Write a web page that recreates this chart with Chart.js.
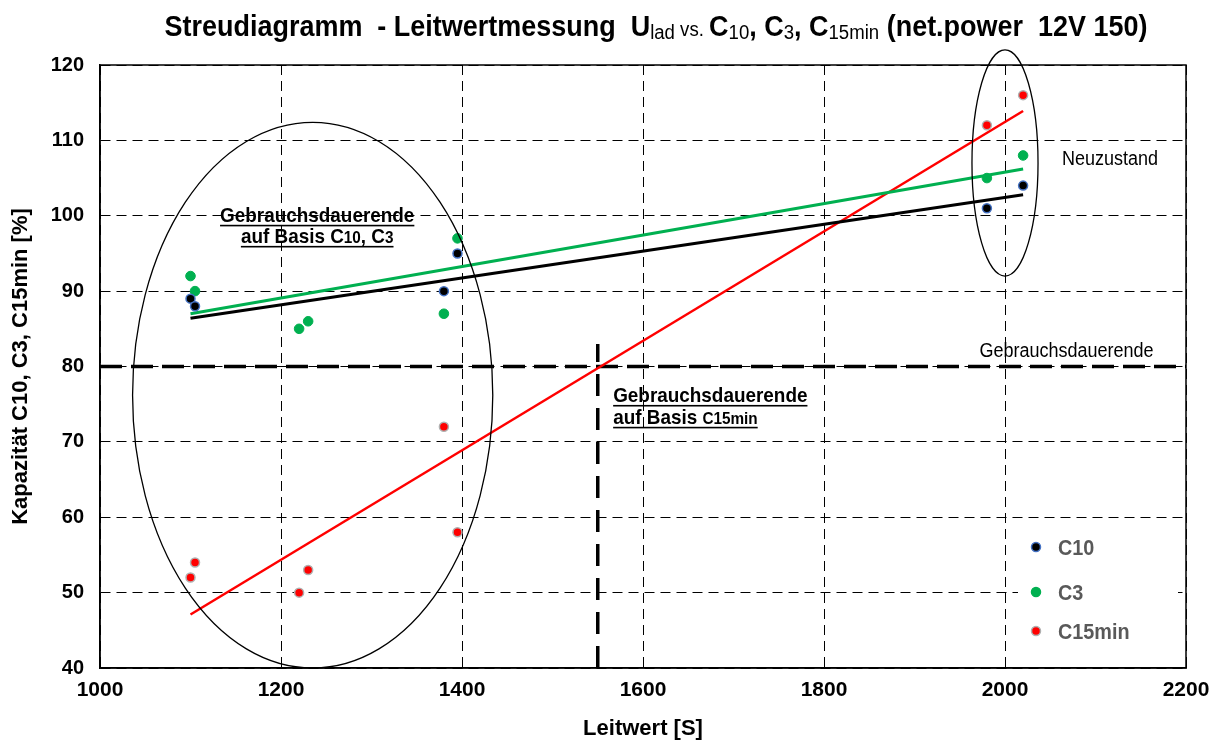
<!DOCTYPE html>
<html>
<head>
<meta charset="utf-8">
<script src="https://cdn.jsdelivr.net/npm/chart.js@4/dist/chart.umd.min.js"></script>
<style>
    body { margin: 0; background: #fff; }
    #wrap { width: 1220px; height: 742px; position: relative; }
</style>
</head>
<body>
<div id="wrap"><canvas id="chart"></canvas></div>
<script>
// measured values (Leitwert [S] vs. capacity [%])
const c10X = [1100, 1105, 1380, 1395, 1980, 2020];
const c10Y = [89, 88, 90, 95, 101, 104];
const c3X = [1100, 1105, 1220, 1230, 1380, 1395, 1980, 2020];
const c3Y = [92, 90, 85, 86, 87, 97, 105, 108];
const c15X = [1100, 1105, 1220, 1230, 1380, 1395, 1980, 2020];
const c15Y = [52, 54, 50, 53, 72, 58, 112, 116];

// trend lines at their ends
const trendX = [1100, 2020];
const trendC10 = [86.4, 102.8];
const trendC3 = [87, 106.2];
const trendC15 = [47.1, 113.9];

// end-of-life limits
const limitX = [1000, 2200];
const limitY = [80, 80];
const c15LimitX = [1550, 1550];
const c15LimitY = [40, 83];

const legendNames = ["C10", "C3", "C15min"];

function pts(xs, ys)
{
    return xs.map((x, i) => ({x: x, y: ys[i]}));
}

const FONT = "'Liberation Sans', Arial, sans-serif";
const SX = 0.9; // text in the original looks a bit condensed

// draw text made of runs with different sizes
function drawRuns(ctx, runs, x, y, align, underline, scaleX, fitWidth)
{
    scaleX = scaleX || 1;
    let w = 0;
    runs.forEach(r =>
    {
        ctx.font = (r.bold ? "bold " : "") + r.size + "px " + FONT;
        r.w = ctx.measureText(r.t).width;
        w += r.w;
    });
    if (fitWidth) scaleX = fitWidth / w;
    let start = x;
    if (align === "center") start = x - w * scaleX / 2;
    ctx.save();
    ctx.translate(start, y);
    ctx.scale(scaleX, 1);
    ctx.textBaseline = "alphabetic";
    ctx.textAlign = "left";
    let cx = 0;
    runs.forEach(r =>
    {
        ctx.font = (r.bold ? "bold " : "") + r.size + "px " + FONT;
        ctx.fillStyle = r.color || "#000";
        ctx.fillText(r.t, cx, r.dy || 0);
        cx += r.w;
    });
    if (underline)
    {
        ctx.fillStyle = "#000";
        ctx.fillRect(0, 3, w, 1.6);
    }
    ctx.restore();
    return w;
}

const overlay =
    {
        id: "overlay",
        afterDatasetsDraw(chart)
        {
            const ctx = chart.ctx;
            const xs = chart.scales.x;
            const ys = chart.scales.y;
            const a = chart.chartArea;

            // legend box (white, hides grid behind it)
            ctx.save();
            ctx.fillStyle = "#fff";
            ctx.fillRect(1018, 528, 160, 122);
            ctx.restore();

            // frame
            ctx.save();
            ctx.strokeStyle = "#000";
            ctx.lineWidth = 1.5;
            ctx.strokeRect(a.left, a.top, a.right - a.left, a.bottom - a.top);

            // ellipses
            ctx.lineWidth = 1.3;
            const ell = (cx, cy, rx, ry) =>
            {
                const px = xs.getPixelForValue(cx);
                const py = ys.getPixelForValue(cy);
                const prx = xs.getPixelForValue(cx + rx) - px;
                const pry = py - ys.getPixelForValue(cy + ry);
                ctx.beginPath();
                ctx.ellipse(px, py, prx, pry, 0, 0, Math.PI * 2);
                ctx.stroke();
            };
            ell(1235, 76.2, 199, 36.2);
            ell(2000, 107, 36.5, 15);
            ctx.restore();

            // annotations
            drawRuns(ctx, [{t: "Neuzustand", size: 20}], xs.getPixelForValue(2063), ys.getPixelForValue(106.7), "left", false, SX);
            drawRuns(ctx, [{t: "Gebrauchsdauerende", size: 20}], xs.getPixelForValue(2068), ys.getPixelForValue(81.3), "center", false, SX);

            const lx = xs.getPixelForValue(1240);
            drawRuns(ctx, [{t: "Gebrauchsdauerende", size: 21, bold: true}], lx, ys.getPixelForValue(99.2), "center", true, SX);
            drawRuns(ctx, [
                {t: "auf Basis C", size: 21, bold: true},
                {t: "10", size: 17, bold: true},
                {t: ", C", size: 21, bold: true},
                {t: "3", size: 17, bold: true}
            ], lx, ys.getPixelForValue(96.4), "center", true, SX);

            const rx = xs.getPixelForValue(1567);
            drawRuns(ctx, [{t: "Gebrauchsdauerende", size: 21, bold: true}], rx, ys.getPixelForValue(75.3), "left", true, SX);
            drawRuns(ctx, [
                {t: "auf Basis ", size: 21, bold: true},
                {t: "C15min", size: 17, bold: true}
            ], rx, ys.getPixelForValue(72.4), "left", true, SX);

            // legend inside plot
            const ds = chart.data.datasets;
            const legendRows = [547, 592, 631];
            for (let i = 0; i < 3; i++)
            {
                const y = legendRows[i];
                ctx.save();
                ctx.beginPath();
                ctx.arc(1036, y, 4.5, 0, Math.PI * 2);
                ctx.fillStyle = ds[i].backgroundColor;
                ctx.fill();
                ctx.lineWidth = 1.5;
                ctx.strokeStyle = ds[i].borderColor;
                ctx.stroke();
                ctx.restore();
                drawRuns(ctx, [{t: legendNames[i], size: 22, bold: true, color: "#595959"}], 1058, y + 8, "left", false, SX);
            }

            // title with subscripts
            const big = 29, sm = 20;
            drawRuns(ctx, [
                {t: "Streudiagramm  - Leitwertmessung  U", size: big, bold: true},
                {t: "lad", size: sm, bold: false, dy: 3},
                {t: " vs. ", size: sm, bold: false, dy: 0},
                {t: "C", size: big, bold: true},
                {t: "10", size: sm, bold: false, dy: 3},
                {t: ", C", size: big, bold: true},
                {t: "3", size: sm, bold: false, dy: 3},
                {t: ", C", size: big, bold: true},
                {t: "15min", size: sm, bold: false, dy: 3},
                {t: " (net.power  12V 150)", size: big, bold: true}
            ], 656, 36, "center", false, 1, 983);
        }
    };

const datasets = [
    {
        label: legendNames[0],
        data: pts(c10X, c10Y),
        backgroundColor: "#000000",
        borderColor: "#4472C4",
        borderWidth: 1.5,
        pointRadius: 4.5,
        showLine: false,
        order: 1
    },
    {
        label: legendNames[1],
        data: pts(c3X, c3Y),
        backgroundColor: "#00B050",
        borderColor: "#00B050",
        borderWidth: 1,
        pointRadius: 4.8,
        showLine: false,
        order: 1
    },
    {
        label: legendNames[2],
        data: pts(c15X, c15Y),
        backgroundColor: "#FF0000",
        borderColor: "#B0B0B0",
        borderWidth: 1.5,
        pointRadius: 4.5,
        showLine: false,
        order: 1
    },
    {
        label: "Trend C10",
        data: pts(trendX, trendC10),
        showLine: true,
        borderColor: "#000000",
        borderWidth: 3,
        pointRadius: 0,
        order: 2
    },
    {
        label: "Trend C3",
        data: pts(trendX, trendC3),
        showLine: true,
        borderColor: "#00B050",
        borderWidth: 3,
        pointRadius: 0,
        order: 2
    },
    {
        label: "Trend C15min",
        data: pts(trendX, trendC15),
        showLine: true,
        borderColor: "#FF0000",
        borderWidth: 2.5,
        pointRadius: 0,
        order: 2
    },
    {
        label: "Grenze",
        data: pts(limitX, limitY),
        showLine: true,
        borderColor: "#000000",
        borderWidth: 3.5,
        borderDash: [22, 9],
        pointRadius: 0,
        order: 3
    },
    {
        label: "Grenze C15min",
        data: pts(c15LimitX, c15LimitY),
        showLine: true,
        borderColor: "#000000",
        borderWidth: 3.5,
        borderDash: [22, 12],
        pointRadius: 0,
        order: 3
    }
];

new Chart(document.getElementById("chart"),
    {
        type: "scatter",
        data: {datasets: datasets},
        options: {
            responsive: true,
            maintainAspectRatio: false,
            animation: false,
            layout: {padding: {top: 65, right: 34, left: 0, bottom: 0}},
            plugins: {
                legend: {display: false},
                tooltip: {enabled: false},
                title: {display: false}
            },
            scales: {
                x: {
                    type: "linear",
                    min: 1000,
                    max: 2200,
                    afterFit: (s) => { s.height = 74; },
                    grid: {color: "#000", lineWidth: 1, drawTicks: false},
                    border: {display: true, color: "#000", width: 1.5, dash: [10, 6]},
                    ticks: {
                        stepSize: 200,
                        padding: 10,
                        color: "#000",
                        callback: (v) => String(v),
                        font: {family: FONT, size: 21, weight: "bold"}
                    },
                    title: {
                        display: true,
                        text: "Leitwert [S]",
                        color: "#000",
                        padding: {top: 0, bottom: 0},
                        font: {family: FONT, size: 22, weight: "bold"}
                    }
                },
                y: {
                    type: "linear",
                    min: 40,
                    max: 120,
                    afterFit: (s) => { s.width = 100; },
                    grid: {color: "#000", lineWidth: 1, drawTicks: false},
                    border: {display: true, color: "#000", width: 1.5, dash: [10, 6]},
                    ticks: {
                        stepSize: 10,
                        padding: 16,
                        color: "#000",
                        callback: (v) => String(v),
                        font: {family: FONT, size: 20, weight: "bold"}
                    },
                    title: {
                        display: true,
                        text: "Kapazität C10, C3, C15min [%]",
                        color: "#000",
                        padding: {top: 8, bottom: 0},
                        font: {family: FONT, size: 22, weight: "bold"}
                    }
                }
            }
        },
        plugins: [overlay]
    });
</script>
</body>
</html>
